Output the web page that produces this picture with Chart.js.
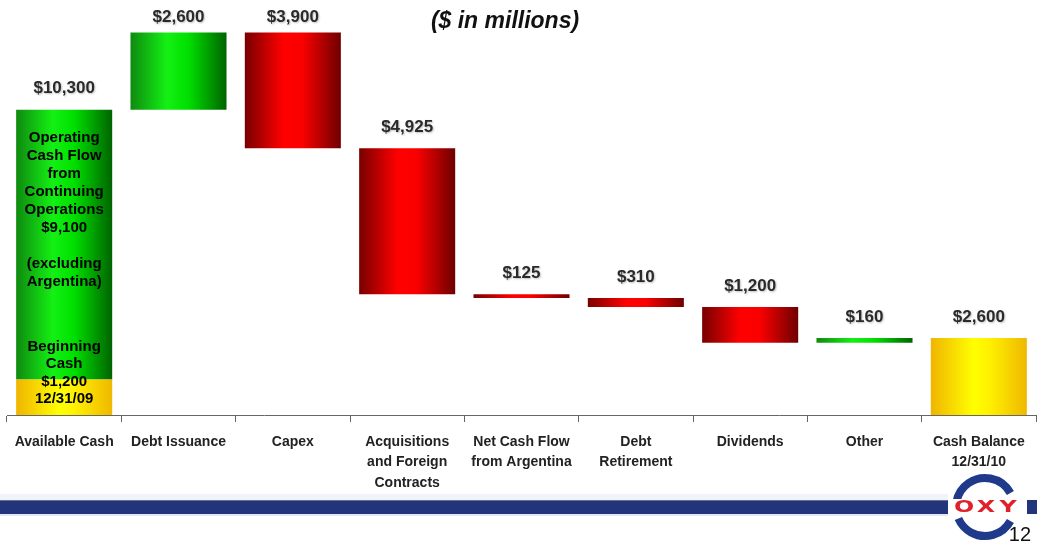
<!DOCTYPE html>
<html>
<head>
<meta charset="utf-8">
<script src="https://cdn.jsdelivr.net/npm/chart.js@4.4.0/dist/chart.umd.min.js"></script>
<style>
  html, body { margin: 0; padding: 0; background: #fff; }
  #wrap { width: 1037px; height: 546px; }
</style>
</head>
<body>
<div id="wrap"><canvas id="cashChart" width="1037" height="546"></canvas></div>
<script>
// Sources and uses of cash, 2010 ($ in millions)
const categories = [
    ['Available Cash'],
    ['Debt Issuance'],
    ['Capex'],
    ['Acquisitions', 'and Foreign', 'Contracts'],
    ['Net Cash Flow', 'from Argentina'],
    ['Debt', 'Retirement'],
    ['Dividends'],
    ['Other'],
    ['Cash Balance', '12/31/10']
];
const beginningCash = 1200;
const operatingCashFlow = 9100;
const stepChanges = [2600, -3900, -4925, -125, -310, -1200, 160];
const endingCash = 2600;

const operatingText = ['Operating', 'Cash Flow', 'from', 'Continuing', 'Operations', '$9,100', '', '(excluding', 'Argentina)'];
const beginningText = ['Beginning', 'Cash', '$1,200', '12/31/09'];

// Build floating ranges for the waterfall
const availableCash = beginningCash + operatingCashFlow;
const cashData = [[0, beginningCash]];
const flowData = [[beginningCash, availableCash]];
const flowKind = ['green'];
const barTops = [availableCash];
const valueLabels = [availableCash];
let running = availableCash;
stepChanges.forEach(function (ch) {
    const next = running + ch;
    flowData.push([Math.min(running, next), Math.max(running, next)]);
    cashData.push(null);
    flowKind.push(ch >= 0 ? 'green' : 'red');
    barTops.push(Math.max(running, next));
    valueLabels.push(Math.abs(ch));
    running = next;
});
cashData.push([0, endingCash]);
flowData.push(null);
flowKind.push('green');
barTops.push(endingCash);
valueLabels.push(endingCash);

const barPct = 0.84;
const gradientStops = {
    green: [[0, '#0f8a0f'], [0.38, '#14f014'], [0.6, '#00e000'], [1, '#006400']],
    red: [[0, '#780000'], [0.4, '#ff0000'], [0.6, '#fa0000'], [1, '#6e0000']],
    yellow: [[0, '#f0b400'], [0.45, '#ffff00'], [0.6, '#fff200'], [1, '#efb800']]
};

function barGradient(ctx, kind) {
    const chart = ctx.chart;
    const xs = chart.scales.x;
    if (!chart.chartArea || !xs) return gradientStops[kind][1][1];
    const cx = xs.getPixelForValue(ctx.dataIndex);
    const w = (xs.width / categories.length) * barPct;
    const g = chart.ctx.createLinearGradient(cx - w / 2, 0, cx + w / 2, 0);
    gradientStops[kind].forEach(function (s) { g.addColorStop(s[0], s[1]); });
    return g;
}

function money(v) {
    return '$' + v.toLocaleString('en-US');
}

const slideDecor = {
    id: 'slideDecor',
    afterDatasetsDraw: function (chart) {
        const c = chart.ctx;
        const xs = chart.scales.x;
        const ys = chart.scales.y;
        c.save();

        // title
        c.fillStyle = '#111';
        c.font = 'italic bold 23px "Liberation Sans", Arial, sans-serif';
        c.textAlign = 'center';
        c.textBaseline = 'middle';
        c.fillText('($ in millions)', 505, 22);

        // value labels above each bar
        c.font = 'bold 17px "Liberation Sans", Arial, sans-serif';
        c.fillStyle = '#2a2a2a';
        c.shadowColor = 'rgba(0,0,0,0.25)';
        c.shadowBlur = 2;
        c.shadowOffsetX = 1;
        c.shadowOffsetY = 1;
        valueLabels.forEach(function (v, i) {
            const x = xs.getPixelForValue(i);
            const y = Math.max(ys.getPixelForValue(barTops[i]) - 21, 17);
            c.fillText(money(v), x, y);
        });
        c.shadowColor = 'transparent';

        // text inside the first bar
        const x0 = xs.getPixelForValue(0);
        c.font = 'bold 15px "Liberation Sans", Arial, sans-serif';
        c.fillStyle = '#000';
        const topY = ys.getPixelForValue(availableCash);
        operatingText.forEach(function (t, i) {
            c.fillText(t, x0, topY + 28 + i * 18);
        });
        const cashTop = ys.getPixelForValue(beginningCash);
        beginningText.forEach(function (t, i) {
            c.fillText(t, x0, cashTop - 33 + i * 17.5);
        });
        c.restore();
    },
    afterDraw: function (chart) {
        const c = chart.ctx;
        c.save();
        // footer band
        c.fillStyle = '#f1f3fa';
        c.fillRect(0, 494, 948, 6);
        c.fillStyle = '#6a7090';
        c.fillRect(0, 500, 948, 1);
        c.fillStyle = '#22357a';
        c.fillRect(0, 501, 948, 13);
        c.fillRect(1027, 500, 10, 14);
        c.fillStyle = '#e4e7f2';
        c.fillRect(0, 514, 948, 2);

        // logo rings
        c.strokeStyle = '#1f3a8a';
        c.lineWidth = 8;
        c.beginPath();
        c.arc(985, 507, 29, Math.PI * 1.06, Math.PI * 1.84);
        c.stroke();
        c.beginPath();
        c.arc(985, 507, 29, Math.PI * 0.16, Math.PI * 0.87);
        c.stroke();
        c.fillStyle = '#fff';
        c.fillRect(950, 499, 72, 17);

        // logo letters
        c.fillStyle = '#e0202a';
        c.font = 'bold 17px "DejaVu Sans", sans-serif';
        c.textAlign = 'center';
        c.textBaseline = 'middle';
        ['O', 'X', 'Y'].forEach(function (ch, i) {
            c.save();
            c.translate(964 + i * 22, 508);
            c.scale(1.4, 0.9);
            c.fillText(ch, 0, 0);
            c.restore();
        });

        // page number
        c.fillStyle = '#111';
        c.font = '20px "Liberation Sans", Arial, sans-serif';
        c.textAlign = 'right';
        c.fillText('12', 1031, 535);
        c.restore();
    }
};

new Chart(document.getElementById('cashChart'), {
    type: 'bar',
    data: {
        labels: categories,
        datasets: [{
            label: 'Cash',
            data: cashData,
            backgroundColor: function (ctx) { return barGradient(ctx, 'yellow'); },
            borderWidth: 0,
            barPercentage: barPct,
            categoryPercentage: 1
        }, {
            label: 'Cash flow',
            data: flowData,
            backgroundColor: function (ctx) { return barGradient(ctx, flowKind[ctx.dataIndex]); },
            borderWidth: 0,
            barPercentage: barPct,
            categoryPercentage: 1
        }]
    },
    options: {
        responsive: false,
        animation: false,
        devicePixelRatio: 1,
        layout: { padding: { left: 7, right: 1, top: 0, bottom: 0 } },
        plugins: { legend: { display: false }, tooltip: { enabled: false } },
        scales: {
            x: {
                stacked: true,
                afterFit: function (axis) { axis.height = 131; },
                border: { color: '#666', width: 1 },
                grid: { offset: true, drawOnChartArea: false, tickLength: 7, color: '#666' },
                ticks: {
                    autoSkip: false,
                    maxRotation: 0,
                    padding: 10,
                    color: '#222',
                    font: { family: '"Liberation Sans", Arial, sans-serif', size: 14, weight: 'bold', lineHeight: 1.45 }
                }
            },
            y: {
                stacked: false,
                display: false,
                min: 0,
                max: 14000
            }
        }
    },
    plugins: [slideDecor]
});
</script>
</body>
</html>
